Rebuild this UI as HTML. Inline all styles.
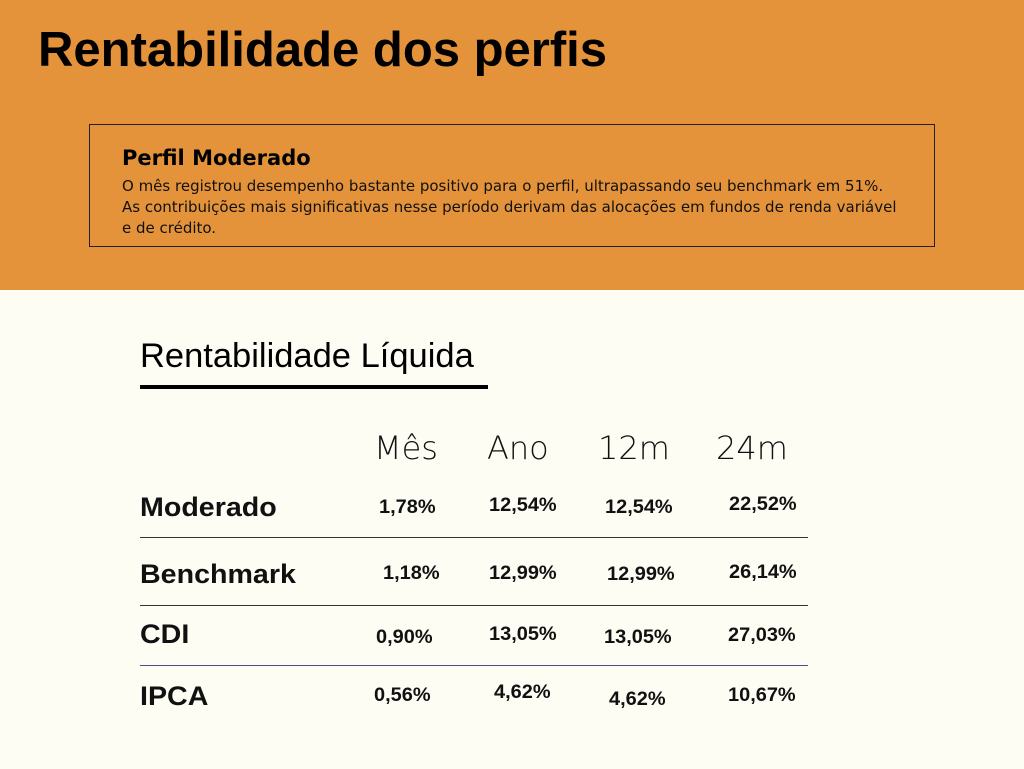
<!DOCTYPE html>
<html><head><meta charset="utf-8"><style>
body{margin:0;width:1024px;height:769px;position:relative;background:#fdfdf4;font-family:"Liberation Sans",sans-serif;overflow:hidden}
.a{position:absolute;white-space:nowrap}
.v{position:absolute;font-weight:bold;font-size:19px;line-height:20px;color:#111;transform:scaleX(1.05);transform-origin:left;margin-top:2px}
.l{position:absolute;font-weight:bold;font-size:27px;line-height:30px;color:#111;transform:scaleX(1.06);transform-origin:left}
.h{position:absolute;font-size:32px;line-height:36px;color:#111;font-family:"DejaVu Sans","Liberation Sans",sans-serif;font-weight:300}
.hr{position:absolute;left:140px;width:668px;height:1px;background:#333}
</style></head><body>
<div class="a" style="left:0;top:0;width:1024px;height:290px;background:#e4933a"></div>
<div class="a" style="left:38px;top:22px;font-size:49px;font-weight:bold;color:#000;line-height:56px">Rentabilidade dos perfis</div>
<div class="a" style="left:89px;top:124px;width:844px;height:121px;border:1px solid #222"></div>
<div class="a" style="left:122px;top:145px;font-size:21px;font-weight:bold;line-height:26px;color:#000;font-family:'DejaVu Sans',sans-serif">Perfil Moderado</div>
<div class="a" style="left:122px;top:176px;font-size:15px;line-height:21px;color:#111;font-family:'DejaVu Sans',sans-serif">O mês registrou desempenho bastante positivo para o perfil, ultrapassando seu benchmark em 51%.<br>As contribuições mais significativas nesse período derivam das alocações em fundos de renda variável<br>e de crédito.</div>
<div class="a" style="left:140px;top:336px;font-size:34.5px;line-height:40px;color:#000">Rentabilidade Líquida</div>
<div class="a" style="left:140px;top:385px;width:348px;height:4px;background:#000"></div>
<div class="h" style="left:374px;top:430px">Mês</div>
<div class="h" style="left:487px;top:430px">Ano</div>
<div class="h" style="left:598px;top:430px">12m</div>
<div class="h" style="left:716px;top:430px">24m</div>
<div class="l" style="left:140px;top:492px">Moderado</div>
<div class="l" style="left:140px;top:559px">Benchmark</div>
<div class="l" style="left:140px;top:619px">CDI</div>
<div class="l" style="left:140px;top:681px">IPCA</div>
<div class="hr" style="top:537px"></div>
<div class="hr" style="top:605px"></div>
<div class="hr" style="top:665px;background:#4a5080"></div>
<div class="v" style="left:379px;top:496px">1,78%</div>
<div class="v" style="left:489px;top:494px">12,54%</div>
<div class="v" style="left:605px;top:496px">12,54%</div>
<div class="v" style="left:729px;top:493px">22,52%</div>
<div class="v" style="left:383px;top:562px">1,18%</div>
<div class="v" style="left:489px;top:562px">12,99%</div>
<div class="v" style="left:607px;top:563px">12,99%</div>
<div class="v" style="left:729px;top:561px">26,14%</div>
<div class="v" style="left:376px;top:626px">0,90%</div>
<div class="v" style="left:489px;top:623px">13,05%</div>
<div class="v" style="left:604px;top:626px">13,05%</div>
<div class="v" style="left:728px;top:624px">27,03%</div>
<div class="v" style="left:374px;top:684px">0,56%</div>
<div class="v" style="left:494px;top:681px">4,62%</div>
<div class="v" style="left:609px;top:688px">4,62%</div>
<div class="v" style="left:728px;top:684px">10,67%</div>
</body></html>
